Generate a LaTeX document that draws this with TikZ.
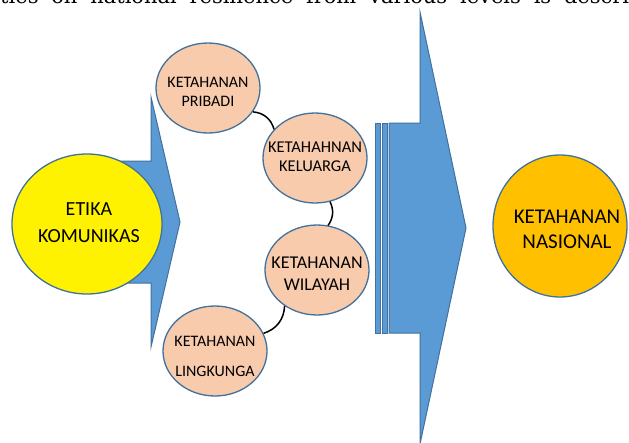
\documentclass[tikz,border=0pt]{standalone}
\usepackage{fontspec}
\setmainfont{Carlito}
\newfontfamily\paperfont{DejaVu Serif}
\usetikzlibrary{shapes.geometric}
\definecolor{arrowfill}{HTML}{5B9BD5}
\definecolor{arrowline}{HTML}{41719C}
\definecolor{peach}{HTML}{F8CBAD}
\definecolor{gold}{HTML}{FFC000}
% two centred lines in a box of zero size, lowered by #3, moved right by half of #4
\newcommand{\lvtext}[4][0pt]{\makebox[0pt]{\hspace{#1}\raisebox{-#4}[0pt][0pt]{\begin{tabular}{@{}c@{}}#2\\#3\end{tabular}}}}
\tikzset{
  blueshape/.style={fill=arrowfill, draw=arrowline, line width=1pt, line join=miter},
  levelnode/.style={ellipse, draw=arrowline, fill=peach, line width=1.3pt, minimum width=104pt, minimum height=90pt, inner sep=0pt, text=black},
  bignode/.style={ellipse, draw=arrowline, line width=1.3pt, inner sep=0pt, text=black},
  link/.style={draw=black, line width=1.5pt}
}
\begin{document}
\begin{tikzpicture}[x=1pt,y=-1pt]
\useasboundingbox (0,0) rectangle (629,442);
\fill[white] (0,0) rectangle (629,442);
% cropped line of surrounding (justified) text
\node[anchor=base west, inner sep=0pt, font=\paperfont\fontsize{21}{22}\selectfont] (paper) at (0,3.3) {\hbox to 629pt{ties\hfill on\hfill national\hfill resilience\hfill from\hfill various\hfill levels\hfill is\hfill descri}};
% left arrow
\path[blueshape] (100,161) -- (151,161) -- (151,97) -- (180,222) -- (151,347) -- (151,283) -- (100,283) -- cycle;
% big striped arrow
\path[blueshape] (375,123) rectangle (380,333);
\path[blueshape] (382,123) rectangle (387,333);
\path[blueshape] (389,123) -- (420,123) -- (420,12) -- (466,228) -- (420,444) -- (420,333) -- (389,333) -- cycle;
% circles
\node[bignode, fill=yellow, minimum width=150pt, minimum height=140pt, font=\fontsize{20}{27}\selectfont] (etika) at (87,224) {\lvtext[4pt]{ETIKA}{KOMUNIKAS}{4.5pt}};
\node[bignode, fill=gold, minimum width=134pt, minimum height=142pt, font=\fontsize{21}{25}\selectfont] (nasional) at (560,226) {\lvtext[14pt]{KETAHANAN}{NASIONAL}{10.5pt}};
% level ellipses
\node[levelnode, font=\fontsize{16}{19}\selectfont] (pribadi) at (208,88) {\lvtext{KETAHANAN}{PRIBADI}{9.8pt}};
\node[levelnode, font=\fontsize{16.5}{19}\selectfont] (keluarga) at (315,158) {\lvtext{KETAHAHNAN}{KELUARGA}{4.1pt}};
\node[levelnode, font=\fontsize{18}{22}\selectfont] (wilayah) at (317,270) {\lvtext{KETAHANAN}{WILAYAH}{9.9pt}};
\node[levelnode, font=\fontsize{16}{30}\selectfont] (lingkunga) at (215,351) {\lvtext{KETAHANAN}{LINGKUNGA}{9.1pt}};
% connectors
\draw[link] (pribadi.-28) to[bend left=35] (keluarga.145);
\draw[link] (keluarga.-71) to[bend left=30] (wilayah.76);
\draw[link] (wilayah.-132) to[bend left=35] (lingkunga.20);
\end{tikzpicture}
\end{document}
